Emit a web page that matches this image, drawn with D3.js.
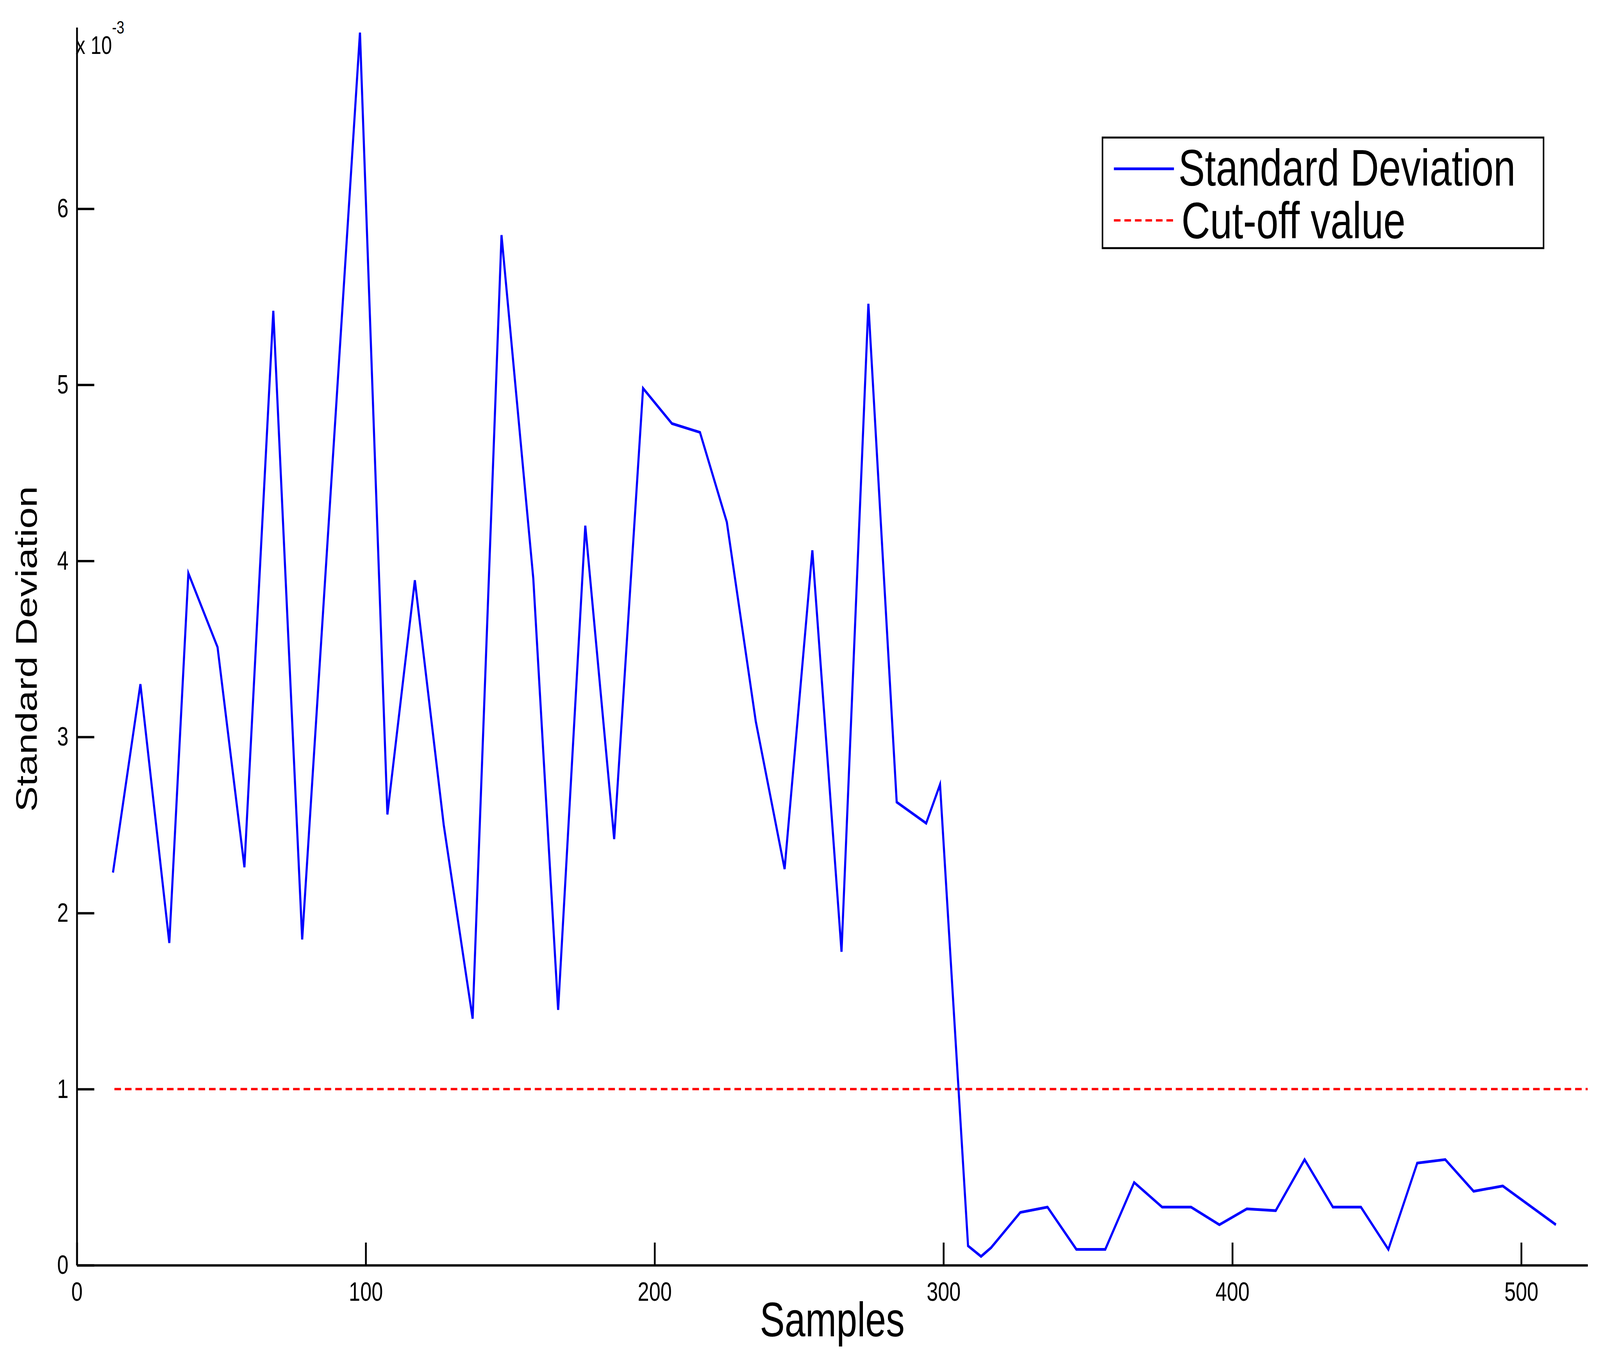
<!DOCTYPE html>
<html><head><meta charset="utf-8">
<script src="https://cdn.jsdelivr.net/npm/d3@7"></script>
<style>html,body{margin:0;background:#fff;overflow:hidden}svg{display:block;font-family:"Liberation Sans",Arial,sans-serif}</style>
</head><body>
<script>
const samples = [12.5,22,32,38.6,48.7,58,68,78,98,107.5,117,127,137,147,158,166.6,176,186,196,206,215.7,225,235,245,254.6,264.7,274,283.8,294,298.8,308.5,313,316.5,326.6,336,346,356,366,375.7,385.7,395.5,405,415,425,434.8,444.5,454,464,473.7,483.5,493.6,512];
const stdDev = [2.23,3.3,1.83,3.93,3.51,2.26,5.42,1.85,7.0,2.56,3.89,2.5,1.4,5.85,3.9,1.45,4.2,2.42,4.98,4.78,4.73,4.22,3.09,2.25,4.06,1.78,5.46,2.63,2.51,2.73,0.11,0.05,0.1,0.3,0.33,0.09,0.09,0.47,0.33,0.33,0.23,0.32,0.31,0.6,0.33,0.33,0.09,0.58,0.6,0.42,0.45,0.23];
const cutoffX = [13, 523];
const cutoffValue = 1;
const xTicks = [0,100,200,300,400,500];
const yTicks = [0,1,2,3,4,5,6];

const W = 5329, H = 3478;
// draw in reference pixel units, scale to whatever the window is
const svg = d3.select("body").append("svg")
  .attr("viewBox", `0 0 ${W} ${H}`)
  .attr("preserveAspectRatio", "none")
  .style("width", "100vw").style("height", "100vh");
const x = d3.scaleLinear().domain([0, 523]).range([256, 5288]);
const y = d3.scaleLinear().domain([0, 7.03]).range([3238, 70]);

svg.append("g").attr("transform", `translate(0,${y(0)})`)
  .call(d3.axisBottom(x).tickValues(xTicks).tickFormat(d3.format("d")).tickSizeInner(-58).tickSizeOuter(0).tickPadding(30))
  .call(g => g.selectAll("text").attr("font-size", 68).attr("fill", "#000").attr("dy", "0.9em"))
  .call(g => g.selectAll("line,path").attr("stroke", "#000").attr("stroke-width", 6));
svg.append("g").attr("transform", `translate(${x(0)},0)`)
  .call(d3.axisLeft(y).tickValues(yTicks).tickFormat(d3.format("d")).tickSizeInner(-58).tickSizeOuter(0).tickPadding(28))
  .call(g => g.selectAll("text").attr("font-size", 68).attr("fill", "#000"))
  .call(g => g.selectAll("line,path").attr("stroke", "#000").attr("stroke-width", 6));

const multT = svg.append("text").attr("x", 252).attr("y", 138).attr("font-size", 64).text("x 10");
multT.append("tspan").attr("font-size", 46).attr("dy", -52).text("-3");

svg.append("text").attr("x", (x(0)+x(523))/2).attr("y", 3420).attr("text-anchor", "middle")
  .attr("font-size", 124).text("Samples");
svg.append("text").attr("transform", `translate(122,${y(3.5)}) rotate(-90)`).attr("text-anchor", "middle")
  .attr("font-size", 98).text("Standard Deviation");

svg.append("line").attr("x1", x(cutoffX[0])).attr("x2", x(cutoffX[1]))
  .attr("y1", y(cutoffValue)).attr("y2", y(cutoffValue))
  .attr("stroke", "#ff0000").attr("stroke-width", 6).attr("stroke-dasharray", "22,13");

svg.append("path").datum(samples.map((s, i) => [s, stdDev[i]]))
  .attr("fill", "none").attr("stroke", "#0000ff").attr("stroke-width", 7).attr("stroke-linejoin", "miter")
  .attr("d", d3.line().x(d => x(d[0])).y(d => y(d[1])));

// legend
const lg = svg.append("g");
lg.append("rect").attr("x", 3672).attr("y", 352).attr("width", 1469).attr("height", 283)
  .attr("fill", "#fff").attr("stroke", "#000").attr("stroke-width", 5);
lg.append("line").attr("x1", 3710).attr("x2", 3910).attr("y1", 432).attr("y2", 432)
  .attr("stroke", "#0000ff").attr("stroke-width", 7);
lg.append("line").attr("x1", 3710).attr("x2", 3910).attr("y1", 564).attr("y2", 564)
  .attr("stroke", "#ff0000").attr("stroke-width", 6).attr("stroke-dasharray", "22,13");
lg.append("text").attr("x", 3925).attr("y", 475).attr("font-size", 132).text("Standard Deviation");
lg.append("text").attr("x", 3935).attr("y", 610).attr("font-size", 132).text("Cut-off value");
</script>
</body></html>
